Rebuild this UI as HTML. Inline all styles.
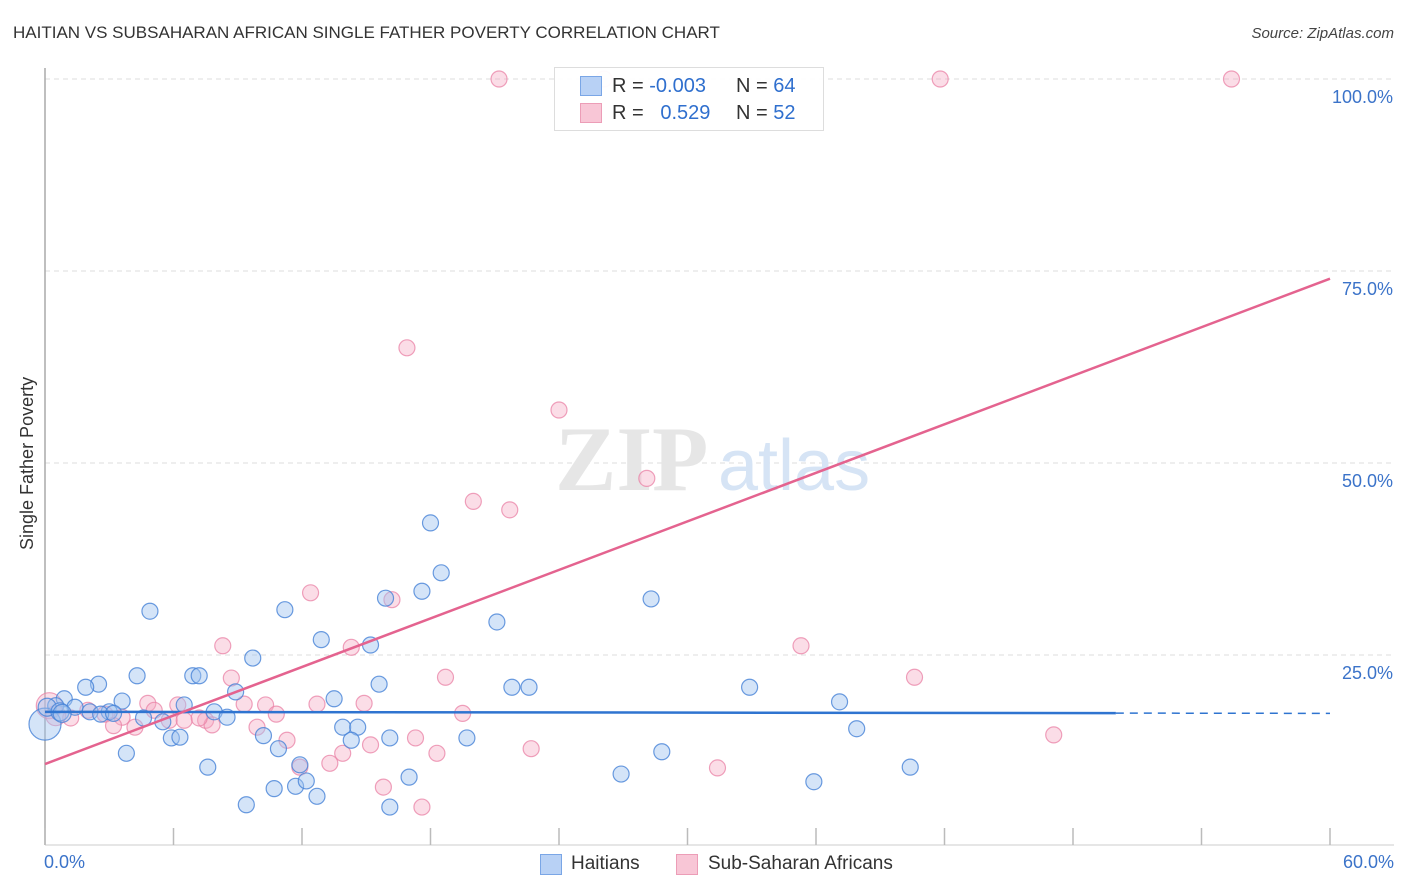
<!DOCTYPE html>
<html><head><meta charset="utf-8">
<style>
body{margin:0;background:#fff;font-family:"Liberation Sans",sans-serif;}
#wrap{position:relative;width:1406px;height:892px;overflow:hidden;}
.t{position:absolute;white-space:nowrap;}
</style></head>
<body>
<div id="wrap">
<div class="t" style="left:13px;top:23px;font-size:17px;color:#333;">HAITIAN VS SUBSAHARAN AFRICAN SINGLE FATHER POVERTY CORRELATION CHART</div>
<div class="t" style="right:12px;top:25px;font-size:15px;color:#444;font-style:italic;">Source: ZipAtlas.com</div>
<svg id="chart" width="1406" height="892" style="position:absolute;left:0;top:0"></svg>
</div>
<script>
const blueX=[4.9,11.2,12.9,15.2,15.9,17.6,18.5,18.0,21.1,28.3,21.8,22.6,15.6,13.5,9.7,8.9,6.9,7.2,4.3,2.5,1.9,0.9,3.6,6.5,7.9,8.5,5.5,4.6,3.0,2.1,0.5,1.4,5.9,6.3,3.8,7.6,10.2,10.9,13.9,14.6,14.3,16.1,19.7,9.4,10.7,11.7,11.9,12.2,12.7,16.1,17.0,26.9,28.8,32.9,37.1,37.9,40.4,35.9,0.0,0.1,0.7,2.6,3.2,0.8];
const blueY=[30.7,30.9,27.0,26.3,32.4,33.3,35.7,42.2,29.3,32.3,20.8,20.8,21.2,19.3,24.6,20.2,22.3,22.3,22.3,21.2,20.8,19.3,19.0,18.5,17.6,16.9,16.3,16.8,17.6,17.6,18.4,18.2,14.2,14.3,12.2,10.4,14.5,12.8,15.6,15.6,13.9,14.2,14.2,5.5,7.6,7.9,10.7,8.6,6.6,5.2,9.1,9.5,12.4,20.8,18.9,15.4,10.4,8.5,16.0,18.2,17.6,17.3,17.4,17.4];
const blueR=[8,8,8,8,8,8,8,8,8,8,8,8,8,8,8,8,8,8,8,8,8,8,8,8,8,8,8,8,8,8,8,8,8,8,8,8,8,8,8,8,8,8,8,8,8,8,8,8,8,8,8,8,8,8,8,8,8,8,16,9,9,8,8,9];
const pinkX=[21.2,41.8,55.4,26.1,16.9,24.0,28.1,20.0,21.7,12.4,16.2,14.3,8.3,35.3,18.7,8.7,40.6,6.2,4.8,10.3,9.3,14.9,12.7,7.5,7.8,10.8,3.6,2.8,2.0,1.2,0.2,0.5,4.2,3.2,9.9,19.5,11.3,11.9,13.9,15.2,17.3,18.3,22.7,13.3,15.8,17.6,31.4,47.1,5.8,6.5,7.2,5.1];
const pinkY=[100,100,100,100,65.0,56.9,48.0,45.0,43.9,33.1,32.2,26.0,26.2,26.2,22.1,22.0,22.1,18.5,18.7,18.5,18.6,18.7,18.6,16.5,15.9,17.3,16.9,17.3,17.8,16.8,18.4,17.1,15.6,15.8,15.6,17.4,13.9,10.4,12.2,13.3,14.2,12.2,12.8,10.9,7.8,5.2,10.3,14.6,16.5,16.5,16.8,17.8];
const pinkR=[8,8,8,8,8,8,8,8,8,8,8,8,8,8,8,8,8,8,8,8,8,8,8,8,8,8,8,8,8,8,13,10,8,8,8,8,8,8,8,8,8,8,8,8,8,8,8,8,8,8,8,8];
const yTicks=[25,50,75,100];
const yTickLabels=["25.0%","50.0%","75.0%","100.0%"];
const xTicks=[0,6,12,18,24,30,36,42,48,54,60];
const blueLine=[17.6,17.4]; // y at x=0 and x=60
const pinkLine=[10.8,74.0];

const svg=document.getElementById('chart');
const NS='http://www.w3.org/2000/svg';
const X=v=>45+v/60*1285;
const Y=v=>847-v/100*768;
function mk(tag,attrs,parent){const e=document.createElementNS(NS,tag);for(const k in attrs)e.setAttribute(k,attrs[k]);(parent||svg).appendChild(e);return e;}

yTicks.forEach((t,i)=>{
  const l=mk('line',{x1:45,x2:1394,y1:Y(t),y2:Y(t),stroke:'#ddd','stroke-dasharray':'5,4','stroke-width':1});
  
  
  const tx=mk('text',{x:1393,y:Y(t)+24,'text-anchor':'end','font-size':18,fill:'#3b73c9','font-family':'Liberation Sans'});
  tx.textContent=yTickLabels[i];
  
  
});
const ax=mk('line',{x1:45,x2:45,y1:68,y2:845,stroke:'#aaa','stroke-width':1.5});


const bx=mk('line',{x1:45,x2:1394,y1:845,y2:845,stroke:'#ccc','stroke-width':1});


xTicks.forEach(t=>{
  const l=mk('line',{x1:X(t),x2:X(t),y1:828,y2:845,stroke:'#bbb','stroke-width':1.5});
  
  
});
// watermark
const wm=mk('text',{x:555,y:490,'font-size':92,fill:'#e6e6e6','font-family':'Liberation Serif','font-weight':'bold'});
wm.textContent='ZIP';


const wm2=mk('text',{x:718,y:490,'font-size':72,fill:'#d6e4f5','font-family':'Liberation Sans'});
wm2.textContent='atlas';



pinkX.forEach((v,i)=>{
  const c=mk('circle',{cx:X(v),cy:Y(pinkY[i]),r:pinkR[i],fill:'rgba(246,170,195,0.4)',stroke:'rgba(234,130,165,0.75)','stroke-width':1.2});
  
  
});
blueX.forEach((v,i)=>{
  const c=mk('circle',{cx:X(v),cy:Y(blueY[i]),r:blueR[i],fill:'rgba(160,195,240,0.45)',stroke:'rgba(70,130,215,0.8)','stroke-width':1.2});
  
  
});
const bl=mk('line',{x1:X(0),y1:Y(blueLine[0]),x2:X(50),y2:Y(blueLine[0]+(blueLine[1]-blueLine[0])*50/60),stroke:'#2f74d0','stroke-width':2.5});


const bd=mk('line',{x1:X(50),y1:Y(blueLine[0]+(blueLine[1]-blueLine[0])*50/60),x2:X(60),y2:Y(blueLine[1]),stroke:'#2f74d0','stroke-width':1.5,'stroke-dasharray':'8,6'});


const pl=mk('line',{x1:X(0),y1:Y(pinkLine[0]),x2:X(60),y2:Y(pinkLine[1]),stroke:'#e4638f','stroke-width':2.5});


</script>
<div class="t" style="left:44px;top:852px;font-size:18px;color:#3b73c9;">0.0%</div>
<div class="t" style="right:12px;top:852px;font-size:18px;color:#3b73c9;">60.0%</div>
<div class="t" style="left:17px;top:550px;font-size:18px;color:#333;transform:rotate(-90deg);transform-origin:0 0;">Single Father Poverty</div>
<div style="position:absolute;left:554px;top:67px;width:268px;height:62px;background:rgba(255,255,255,0.95);border:1px solid #ddd;font-size:20px;">
 <div style="position:absolute;left:25px;top:8px;width:20px;height:18px;background:#b8d1f5;border:1px solid #7aa6e6;"></div>
 <div class="t" style="left:57px;top:7px;color:#333;">R = <span style="color:#2f6fce">-0.003</span></div>
 <div class="t" style="left:181px;top:7px;color:#333;">N = <span style="color:#2f6fce">64</span></div>
 <div style="position:absolute;left:25px;top:35px;width:20px;height:18px;background:#f8c6d6;border:1px solid #ec9db7;"></div>
 <div class="t" style="left:57px;top:34px;color:#333;">R = &nbsp;&nbsp;<span style="color:#2f6fce">0.529</span></div>
 <div class="t" style="left:181px;top:34px;color:#333;">N = <span style="color:#2f6fce">52</span></div>
</div>
<div style="position:absolute;left:540px;top:854px;width:20px;height:19px;background:#b8d1f5;border:1px solid #7aa6e6;"></div>
<div class="t" style="left:571px;top:853px;font-size:19px;color:#333;">Haitians</div>
<div style="position:absolute;left:676px;top:854px;width:20px;height:19px;background:#f8c6d6;border:1px solid #ec9db7;"></div>
<div class="t" style="left:708px;top:853px;font-size:19px;color:#333;">Sub-Saharan Africans</div>
</body></html>
